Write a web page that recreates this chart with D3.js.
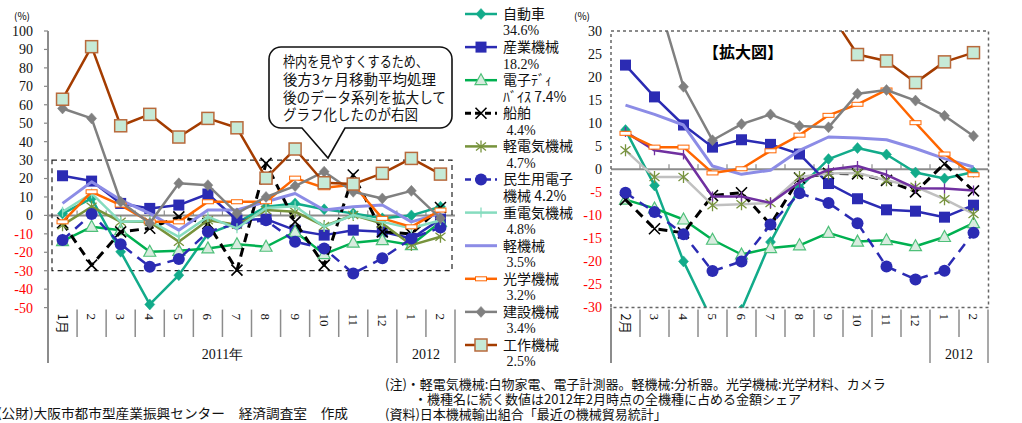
<!DOCTYPE html>
<html><head><meta charset="utf-8">
<script src="https://cdn.jsdelivr.net/npm/d3@7"></script>
<style>html,body{margin:0;padding:0;background:#fff;overflow:hidden}</style>
</head><body><svg id="c" width="1022" height="423"></svg>
<script>
// ---------- data ----------
const monthsLeft  = ["1月","2","3","4","5","6","7","8","9","10","11","12","1","2"];
const monthsRight = ["2月","3","4","5","6","7","8","9","10","11","12","1","2"];
const yearGroupsLeft  = [{label:"2011年", from:0, to:12}, {label:"2012", from:12, to:14}];
const yearGroupsRight = [{label:"", from:0, to:11}, {label:"2012", from:11, to:13}];
const yTicksLeft  = [100,90,80,70,60,50,40,30,20,10,0,-10,-20,-30,-40,-50];
const yTicksRight = [30,25,20,15,10,5,0,-5,-10,-15,-20,-25,-30];

// raw monthly year-on-year change (left panel)
const jidoushaL  = [1, 9.2, -19.7, -48.3, -32.4, -10, -4, 4.7, 6.5, 3.3, 1.1, -1.6, 0, 4.7];
const sangyoL    = [21.5, 18.6, 6.5, 3.8, 5.6, 11.6, -2.5, -2, -8, -10.7, -8, -8.9, -12.5, -2];
const denshiL    = [-14, -6.2, -8, -19.7, -19.2, -17.9, -15.6, -17, -8.9, -21, -14.8, -13.4, -16.1, -3.5];
const senpakuL   = [-4, -27, -8.9, -7, -0.8, -4.4, -29.7, 28.2, -3.5, -27, 21.9, -8.9, -10, 4.3];
const keidenkiL  = [-5.3, 4.7, -3.5, -3.5, -14.3, -2.6, -5, 2.9, 2, -5.8, 0.2, -4.4, -16.1, -11.6];
const minseiL    = [-13.4, 0.7, -15.6, -27.9, -23.7, -8.9, -4.5, -2.6, -14.3, -17.9, -31.5, -23.3, -12.5, -6.5];
const judenkiL   = [2, 11.9, -3.5, -3, -11.6, -0.8, -7, 4, 5, -6.2, 0.2, -3.5, -7, -2.6];
const keikikaiL  = [6.5, 18.2, 8.3, 1.1, -8, 2.9, 2.9, 7.4, 11.9, 2.9, 4.7, 5.6, -3.5, 1.1];
const kogakuL    = [-3.5, 12.8, 5.6, -3.5, -3.5, 7.4, 7.4, 7.4, 20.2, 15, 16.6, -1.6, -6.2, 2.9];
const kensetsuL  = [58, 52.6, 7.4, -4.3, 17.4, 16.4, 1.1, 10, 15.9, 23.7, 12.8, 9.2, 13.3, -1.6];
const kosakuL    = [63, 91.5, 48.6, 54.8, 42.5, 52.6, 47.5, 20.2, 36, 17.7, 17, 22.8, 30.9, 22.4];

// 3-month moving average (right panel, enlarged)
const jidoushaR  = [8.5, -3.5, -20, -33, -30.5, -15.8, -4, 2.2, 4.6, 3.2, -0.7, -2, -0.6];
const sangyoR    = [22.6, 15.7, 9.6, 4.8, 6.4, 5.4, 3.3, -3.1, -6.4, -8.8, -9.1, -10.4, -7.8];
const denshiR    = [-6.6, -8.5, -10.9, -15.3, -18.5, -17.1, -16.5, -13.8, -15.7, -15.4, -16.7, -14.7, -11.7];
const senpakuR   = [-6.6, -12.9, -13.8, -5.7, -5.1, -12, -1.9, -0.9, -1, -2.4, -4.9, 1.2, -4.7];
const keidenkiR  = [4.1, -1.7, -1.7, -7.8, -7.6, -7.3, -1.7, -0.9, -0.8, -2.4, -3.8, -6.5, -9.7];
const minseiR    = [-5.1, -9.3, -14.1, -22.1, -20, -12, -5.2, -7.3, -11.7, -21.1, -23.9, -22, -13.8];
const judenkiR   = [8.1, 4.1, 3.2, -5.9, -5.9, -7.3, -2.8, -0.1, 0.7, -1.2, -4.1, -4.2, -4.6];
const keikikaiR  = [13.9, 11.9, 9.6, 0.7, -1.1, -0.2, 4.1, 7, 6.8, 6.4, 4.5, 2.3, 0.5];
const kogakuR    = [7.8, 4.8, 4.8, -0.8, 0.1, 4, 7.4, 11.7, 14.1, 17.2, 10.1, 3.3, -1.2];
const kensetsuR  = [52, 39.2, 17.9, 6.3, 9.8, 11.9, 9.4, 9.1, 16.4, 17.2, 14.9, 11.6, 7.2];
const kosakuR    = [70, 67.7, 65, 48.6, 50, 47.6, 40.1, 34.4, 24.9, 23.5, 18.8, 23.3, 25.3];

const legendLine1 = ["自動車","産業機械","電子ﾃﾞｨ","船舶","軽電気機械","民生用電子","重電気機械","軽機械","光学機械","建設機械","工作機械"];
const legendLine2 = ["34.6%","18.2%","ﾊﾞｲｽ 7.4%"," 4.4%"," 4.7%","機械 4.2%"," 4.8%"," 3.5%"," 3.2%"," 3.4%"," 2.5%"];

const calloutLines = ["枠内を見やすくするため、","後方3ヶ月移動平均処理","後のデータ系列を拡大して","グラフ化したのが右図"];
const noteLines = ["(注)・軽電気機械:白物家電、電子計測器。軽機械:分析器。光学機械:光学材料、カメラ",
                   "・機種名に続く数値は2012年2月時点の全機種に占める金額シェア",
                   "(資料)日本機械輸出組合「最近の機械貿易統計」"];
const creditLine = "(公財)大阪市都市型産業振興センター　経済調査室　作成";

// ---------- styles ----------
const JP = "'Noto Sans CJK JP','Noto Sans',sans-serif";
const SERIF = "'Liberation Serif','DejaVu Serif',serif";
const BLUE = "#2b2bb3";
const series = [
  {L: jidoushaL, R: jidoushaR, color:"#12ab8a", marker:"diamond", w:2.5},
  {L: sangyoL,   R: sangyoR,   color:BLUE,      marker:"square", w:2.5},
  {L: denshiL,   R: denshiR,   color:"#00b050", marker:"triangle", w:2.5},
  {L: senpakuL,  R: senpakuR,  color:"#000000", marker:"x", w:3, dash:"9,6"},
  {L: keidenkiL, R: keidenkiR, color:"#77933c", colorR:"#c0c0c0", marker:"asterisk", w:2.5},
  {L: minseiL,   R: minseiR,   color:BLUE,      marker:"circle", w:2.5, dash:"10,7"},
  {L: judenkiL,  R: judenkiR,  color:"#86dcbf", colorR:"#7030a0", marker:"plus", w:2.5},
  {L: keikikaiL, R: keikikaiR, color:"#8c8ce6", marker:"none", w:3},
  {L: kogakuL,   R: kogakuR,   color:"#ff6600", marker:"dashrect", w:2.5},
  {L: kensetsuL, R: kensetsuR, color:"#808080", marker:"diamond", w:2.5},
  {L: kosakuL,   R: kosakuR,   color:"#a43c00", marker:"bigsquare", w:2.5}
];

const svg = d3.select("#c");
svg.append("rect").attr("width",1022).attr("height",423).attr("fill","#fff");

function drawMarker(g, type, x, y, s, colLine, mColor) {
  const c = mColor || colLine;
  switch (type) {
    case "diamond":
      g.append("path").attr("d",`M${x},${y-5.5}L${x+5},${y}L${x},${y+5.5}L${x-5},${y}Z`).attr("fill",c).attr("stroke",c).attr("stroke-width",0.5); break;
    case "square":
      g.append("rect").attr("x",x-5.5).attr("y",y-5.5).attr("width",11).attr("height",11).attr("fill",c); break;
    case "bigsquare":
      g.append("rect").attr("x",x-6).attr("y",y-6).attr("width",12).attr("height",12).attr("fill","#c6ead7").attr("stroke","#b86a3c").attr("stroke-width",1.5); break;
    case "triangle":
      g.append("path").attr("d",`M${x},${y-6.5}L${x+6},${y+4.5}L${x-6},${y+4.5}Z`).attr("fill","#d8ecdf").attr("stroke","#4fc07a").attr("stroke-width",1.2); break;
    case "circle":
      g.append("circle").attr("cx",x).attr("cy",y).attr("r",6).attr("fill",c); break;
    case "x":
      g.append("path").attr("d",`M${x-5.5},${y-5.5}L${x+5.5},${y+5.5}M${x+5.5},${y-5.5}L${x-5.5},${y+5.5}`).attr("stroke","#000").attr("stroke-width",1.6).attr("fill","none"); break;
    case "asterisk":
      g.append("path").attr("d",`M${x},${y-6}L${x},${y+6}M${x-5},${y-4}L${x+5},${y+4}M${x+5},${y-4}L${x-5},${y+4}`).attr("stroke",c).attr("stroke-width",1.3).attr("fill","none"); break;
    case "plus":
      g.append("path").attr("d",`M${x},${y-5}L${x},${y+5}`).attr("stroke",c).attr("stroke-width",1.3).attr("fill","none"); break;
    case "dashrect":
      g.append("rect").attr("x",x-5.5).attr("y",y-2).attr("width",11).attr("height",4).attr("fill","#fff").attr("stroke",c).attr("stroke-width",1); break;
  }
}

// ---------- generic panel ----------
function panel(opt) {
  const g = svg.append("g");
  const x = d3.scaleBand().domain(d3.range(opt.cats.length)).range([opt.x0, opt.x1]).padding(0);
  const y = d3.scaleLinear().domain(opt.domain).range([opt.yb, opt.yt]);
  const bw = x.bandwidth();
  g.selectAll("text.yt").data(opt.yticks).join("text")
    .attr("x", opt.x0 - opt.labelGap).attr("y", d => y(d)).attr("dy","0.35em")
    .attr("text-anchor","end").attr("font-family",SERIF).attr("font-size",14)
    .attr("fill", d => d < 0 ? "#ff0000" : "#111").text(d => d);
  if (opt.yTickMarks) {
    g.selectAll("line.ytm").data(opt.yticks).join("line")
      .attr("x1",opt.x0-4).attr("x2",opt.x0).attr("y1",d=>y(d)).attr("y2",d=>y(d))
      .attr("stroke","#888").attr("stroke-width",1.2);
  }
  g.append("line").attr("x1",opt.x0).attr("x2",opt.x1).attr("y1",y(0)).attr("y2",y(0)).attr("stroke","#8c8c8c").attr("stroke-width",2);
  g.selectAll("line.xt").data(d3.range(1, opt.cats.length)).join("line")
    .attr("x1",i=>opt.x0+i*bw).attr("x2",i=>opt.x0+i*bw).attr("y1",y(0)).attr("y2",y(0)-5)
    .attr("stroke","#8c8c8c").attr("stroke-width",1.2);
  g.append("line").attr("x1",opt.x0).attr("x2",opt.x0).attr("y1",opt.axisDashed ? opt.yb : opt.yt).attr("y2",363)
    .attr("stroke","#8c8c8c").attr("stroke-width",2);
  const groupEnds = opt.groups.map(d => d.to);
  g.selectAll("line.sep").data(d3.range(1, opt.cats.length+1)).join("line")
    .attr("x1",i=>opt.x0+i*bw).attr("x2",i=>opt.x0+i*bw)
    .attr("y1",opt.yb+2).attr("y2",i=> groupEnds.includes(i) ? 363 : 337)
    .attr("stroke","#8c8c8c").attr("stroke-width",1.5);
  g.selectAll("text.cat").data(opt.cats).join("text")
    .attr("transform",(d,i)=>`translate(${x(i)+bw/2},${opt.yb+6}) rotate(90)`)
    .attr("dy","0.35em").attr("text-anchor","start")
    .attr("font-family",(d)=> /月/.test(d) ? JP : SERIF).attr("font-size",13).attr("fill","#111").text(d=>d);
  g.selectAll("text.yr").data(opt.groups).join("text")
    .attr("x", d => opt.x0 + (d.from + d.to)/2*bw).attr("y", 354).attr("dy","0.35em")
    .attr("text-anchor","middle").attr("font-family",SERIF).attr("font-size",14).attr("fill","#111")
    .text(d=>d.label);
  return {g, x, y, bw};
}

// ---------- left panel ----------
const L = panel({cats: monthsLeft, x0:48, x1:455, yt:31, yb:307.6, domain:[-50,100], yticks:yTicksLeft,
                 groups: yearGroupsLeft, labelGap:15, yTickMarks:true});
L.g.append("rect").attr("x",52).attr("y",L.y(30)).attr("width",400).attr("height",L.y(-30)-L.y(30))
  .attr("fill","none").attr("stroke","#222").attr("stroke-width",1.2).attr("stroke-dasharray","5,4");

function drawLines(P, key, clipId) {
  const gs = P.g.append("g");
  if (clipId) gs.attr("clip-path",`url(#${clipId})`);
  series.forEach(s => {
    const vals = s[key];
    const col = (key==="R" && s.colorR) ? s.colorR : s.color;
    const line = d3.line().x((d,i)=>P.x(i)+P.bw/2).y(d=>P.y(d));
    gs.append("path").attr("d",line(vals)).attr("fill","none").attr("stroke",col)
      .attr("stroke-width",s.w).attr("stroke-dasharray",s.dash||null).attr("stroke-linejoin","round");
    let mcol = s.color;
    if (key==="R" && s.marker==="plus") mcol = s.colorR;
    vals.forEach((v,i)=> drawMarker(gs, s.marker, P.x(i)+P.bw/2, P.y(v), 1, col, mcol));
  });
}
drawLines(L, "L", null);

// ---------- right panel ----------
const R = panel({cats: monthsRight, x0:611, x1:988, yt:31, yb:307.5, domain:[-30,30], yticks:yTicksRight,
                 groups: yearGroupsRight, labelGap:9, yTickMarks:false, axisDashed:true});
svg.append("defs").append("clipPath").attr("id","clipR").append("rect")
  .attr("x",611).attr("y",R.y(30)).attr("width",378).attr("height",R.y(-30)-R.y(30));
drawLines(R, "R", "clipR");
R.g.append("rect").attr("x",611).attr("y",R.y(30)).attr("width",377.5).attr("height",R.y(-30)-R.y(30))
  .attr("fill","none").attr("stroke","#666").attr("stroke-width",1.5).attr("stroke-dasharray","3,3");
R.g.append("text").attr("x",743).attr("y",52).attr("dy","0.35em").attr("text-anchor","middle")
  .attr("font-family",JP).attr("font-size",16).attr("font-weight",700).text("【拡大図】");

svg.append("text").attr("x",14).attr("y",16).attr("dy","0.35em").attr("font-family",JP).attr("font-size",10).text("(%)");
svg.append("text").attr("x",574).attr("y",16).attr("dy","0.35em").attr("font-family",JP).attr("font-size",10).text("(%)");

// ---------- legend ----------
const lg = svg.append("g");
series.forEach((s,i) => {
  const yy = 14 + i*33.1;
  const gi = lg.append("g");
  gi.append("line").attr("x1",465).attr("x2",497).attr("y1",yy).attr("y2",yy).attr("stroke",s.color)
    .attr("stroke-width",s.w).attr("stroke-dasharray", s.dash ? "6,4" : null);
  drawMarker(gi, s.marker, 481, yy, 1, s.color, s.color);
  gi.append("text").attr("x",503).attr("y",yy).attr("dy","0.35em").attr("font-family",JP).attr("font-size",14).attr("fill","#111").text(legendLine1[i]);
  const l2 = legendLine2[i];
  gi.append("text").attr("x",503).attr("y",yy+16.5).attr("dy","0.35em").attr("font-family", /ﾊﾞ|機/.test(l2)? JP : SERIF)
    .attr("font-size",14).attr("fill","#111").style("white-space","pre").text(l2);
});

// ---------- callout ----------
const cx0=269, cx1=452, cy0=47, cy1=128, r=12;
const cp = d3.path();
cp.moveTo(cx0+r,cy0); cp.lineTo(cx1-r,cy0); cp.arcTo(cx1,cy0,cx1,cy0+r,r);
cp.lineTo(cx1,cy1-r); cp.arcTo(cx1,cy1,cx1-r,cy1,r);
cp.lineTo(345,cy1); cp.lineTo(328,158); cp.lineTo(302,cy1);
cp.lineTo(cx0+r,cy1); cp.arcTo(cx0,cy1,cx0,cy1-r,r);
cp.lineTo(cx0,cy0+r); cp.arcTo(cx0,cy0,cx0+r,cy0,r); cp.closePath();
svg.append("path").attr("d",cp.toString()).attr("fill","#fff").attr("stroke","#111").attr("stroke-width",1.6);
const cw = [145,153,163,135];
calloutLines.forEach((t,i)=> svg.append("text").attr("x",283).attr("y",62+i*17.8).attr("dy","0.35em")
  .attr("font-family",JP).attr("font-size",14.5).attr("fill","#111")
  .attr("textLength",cw[i]).attr("lengthAdjust","spacingAndGlyphs").text(t));

// ---------- notes ----------
const nx = [385,414,385], ny=[384,399,414];
noteLines.forEach((t,i)=> svg.append("text").attr("x",nx[i]).attr("y",ny[i]).attr("dy","0.35em")
  .attr("font-family",JP).attr("font-size",13).attr("fill","#111").text(t));
svg.append("text").attr("x",-3).attr("y",413).attr("dy","0.35em").attr("font-family",JP).attr("font-size",13)
  .attr("fill","#111").attr("textLength",351).attr("lengthAdjust","spacingAndGlyphs").text(creditLine);
</script></body></html>
